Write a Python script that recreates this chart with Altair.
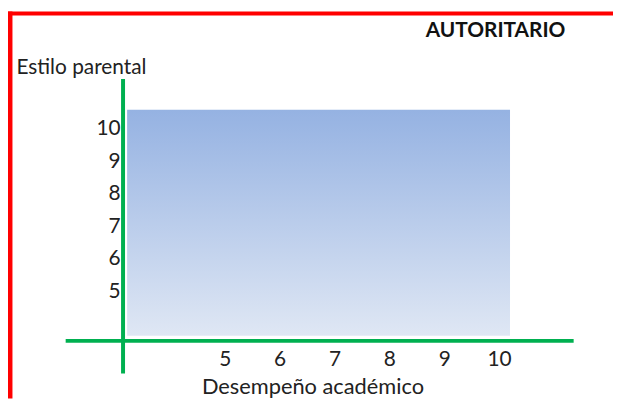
import altair as alt
import pandas as pd

# tick labels
x_ticks = [5, 6, 7, 8, 9, 10]
y_ticks = [5, 6, 7, 8, 9, 10]

# scale extents (data units)
x_domain = [3.146, 11.318]
y_domain = [3.476, 11.52]

# shaded region (Autoritario)
rect_x = [3.22]
rect_x2 = [10.2]
rect_y = [3.63]
rect_y2 = [10.58]

# axis cross lines
hline_y = [3.476]
hline_x = [2.1]
hline_x2 = [11.36]
vline_x = [3.146]
vline_y = [2.47]
vline_y2 = [11.52]

W, H = 452, 264
PAD = {"left": 116, "top": 70, "right": 42, "bottom": 58}
FONT = "Lato"

xs = alt.Scale(domain=x_domain, nice=False, zero=False)
ys = alt.Scale(domain=y_domain, nice=False, zero=False)

rect_df = pd.DataFrame({"x": rect_x, "x2": rect_x2, "y": rect_y, "y2": rect_y2})
h_df = pd.DataFrame({"y": hline_y, "x": hline_x, "x2": hline_x2})
v_df = pd.DataFrame({"x": vline_x, "y": vline_y, "y2": vline_y2})
one = pd.DataFrame({"a": [0]})

grad = alt.LinearGradient(
    gradient="linear",
    stops=[alt.GradientStop(color="#95b2e2", offset=0),
           alt.GradientStop(color="#dfe7f4", offset=1)],
    x1=0, x2=0, y1=0, y2=1,
)

x_axis = alt.Axis(values=x_ticks, format="d", domain=False, ticks=False, grid=False,
                  labelPadding=8, labelFontSize=21, labelFont=FONT, labelColor="#222",
                  title="Desempeño académico", titleFont=FONT, titleFontSize=22,
                  titleFontWeight="normal", titleColor="#222",
                  titleX=191, titleY=46, titleBaseline="middle", titleAlign="center")
y_axis = alt.Axis(values=y_ticks, format="d", domain=False, ticks=False, grid=False,
                  labelPadding=3, labelFontSize=21, labelFont=FONT, labelColor="#222",
                  title="Estilo parental", titleFont=FONT, titleFontSize=21,
                  titleFontWeight="normal", titleColor="#222", titleAngle=0,
                  titleX=-108, titleY=-12, titleBaseline="middle", titleAlign="left")

rect = alt.Chart(rect_df).mark_rect(fill=grad).encode(
    x=alt.X("x:Q", scale=xs, axis=x_axis),
    x2="x2:Q",
    y=alt.Y("y:Q", scale=ys, axis=y_axis),
    y2="y2:Q",
)

hline = alt.Chart(h_df).mark_rule(color="#00b050", strokeWidth=4).encode(
    x=alt.X("x:Q", scale=xs), x2="x2:Q", y=alt.Y("y:Q", scale=ys))
vline = alt.Chart(v_df).mark_rule(color="#00b050", strokeWidth=4).encode(
    x=alt.X("x:Q", scale=xs), y=alt.Y("y:Q", scale=ys), y2="y2:Q")

total_w = PAD["left"] + W + PAD["right"]
total_h = PAD["top"] + H + PAD["bottom"]

frame_left = alt.Chart(one).mark_rule(color="#ff0000", strokeWidth=5).encode(
    x=alt.value(-114), y=alt.value(-68), y2=alt.value(total_h - PAD["top"]))
frame_top = alt.Chart(one).mark_rule(color="#ff0000", strokeWidth=4).encode(
    x=alt.value(-PAD["left"]), x2=alt.value(total_w - PAD["left"]), y=alt.value(-66))

chart = alt.layer(rect, hline, vline, frame_left, frame_top).properties(
    width=W, height=H,
    autosize=alt.AutoSizeParams(type="none"),
    padding=PAD,
    title=alt.TitleParams("AUTORITARIO", anchor="end", frame="group", font=FONT,
                          fontSize=21, fontWeight="bold", color="#111",
                          baseline="middle", offset=0, dy=43, dx=-6),
).configure_view(stroke=None).resolve_scale(x="shared", y="shared")

chart.save("out.html", embed_options={"renderer": "svg", "actions": False})
